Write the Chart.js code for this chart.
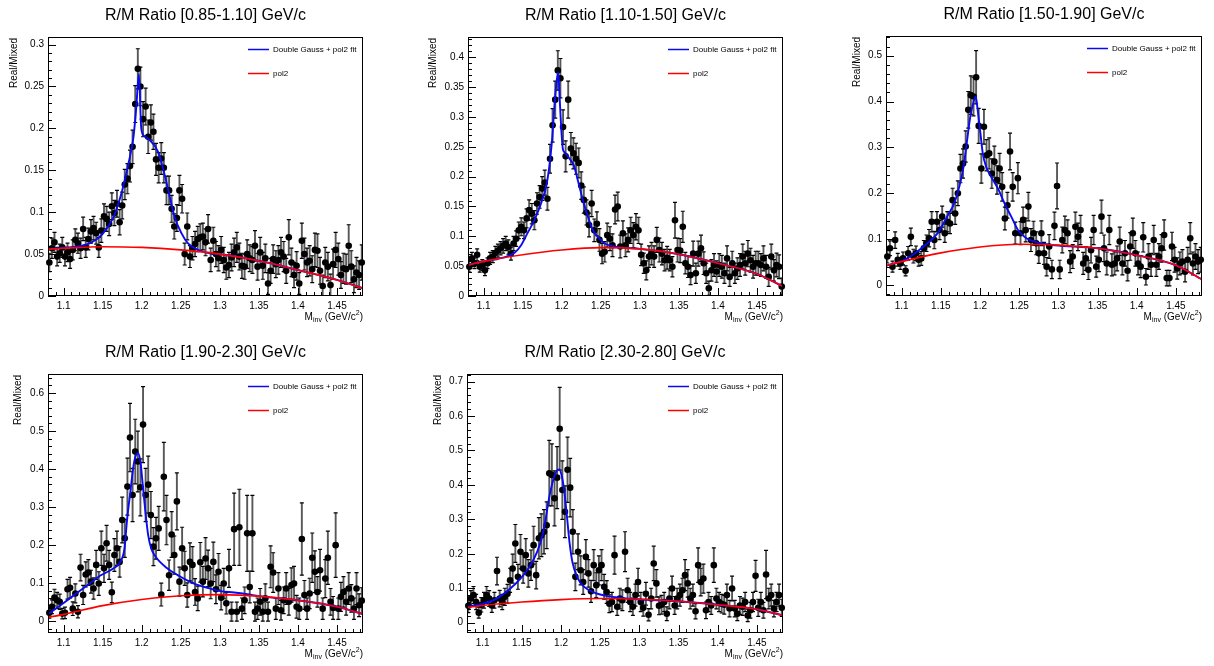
<!DOCTYPE html>
<html>
<head>
<meta charset="utf-8">
<title>R/M Ratio vs invariant mass</title>
<script src="https://cdn.jsdelivr.net/npm/chart.js@4.4.1/dist/chart.umd.min.js"></script>
<style>
  html, body { margin: 0; padding: 0; background: #fff; }
  #page { position: relative; width: 1214px; height: 666px; overflow: hidden; background: #fff; }
  #page canvas { position: absolute; }
</style>
</head>
<body>
<div id="page"></div>
<script>
// ---------------------------------------------------------------------------
// Histogram binning: 121 bins of width 1/300 GeV/c^2 starting at 1.08
// ---------------------------------------------------------------------------
const massBins = [
  1.0817,1.0850,1.0883, 1.0917,1.0950,1.0983, 1.1017,1.1050,1.1083, 1.1117,1.1150,1.1183,
  1.1217,1.1250,1.1283, 1.1317,1.1350,1.1383, 1.1417,1.1450,1.1483, 1.1517,1.1550,1.1583,
  1.1617,1.1650,1.1683, 1.1717,1.1750,1.1783, 1.1817,1.1850,1.1883, 1.1917,1.1950,1.1983,
  1.2017,1.2050,1.2083, 1.2117,1.2150,1.2183, 1.2217,1.2250,1.2283, 1.2317,1.2350,1.2383,
  1.2417,1.2450,1.2483, 1.2517,1.2550,1.2583, 1.2617,1.2650,1.2683, 1.2717,1.2750,1.2783,
  1.2817,1.2850,1.2883, 1.2917,1.2950,1.2983, 1.3017,1.3050,1.3083, 1.3117,1.3150,1.3183,
  1.3217,1.3250,1.3283, 1.3317,1.3350,1.3383, 1.3417,1.3450,1.3483, 1.3517,1.3550,1.3583,
  1.3617,1.3650,1.3683, 1.3717,1.3750,1.3783, 1.3817,1.3850,1.3883, 1.3917,1.3950,1.3983,
  1.4017,1.4050,1.4083, 1.4117,1.4150,1.4183, 1.4217,1.4250,1.4283, 1.4317,1.4350,1.4383,
  1.4417,1.4450,1.4483, 1.4517,1.4550,1.4583, 1.4617,1.4650,1.4683, 1.4717,1.4750,1.4783,
  1.4817
];
const massMin = 1.08;
const massMax = 1.4833;
const massTicks = [1.1, 1.15, 1.2, 1.25, 1.3, 1.35, 1.4, 1.45];

const panelTitles = [
  'R/M Ratio [0.85-1.10] GeV/c',
  'R/M Ratio [1.10-1.50] GeV/c',
  'R/M Ratio [1.50-1.90] GeV/c',
  'R/M Ratio [1.90-2.30] GeV/c',
  'R/M Ratio [2.30-2.80] GeV/c'
];

// ---------------------------------------------------------------------------
// Real/Mixed ratio and its statistical error, one value per mass bin
// ---------------------------------------------------------------------------
const ratioPt085 = [
  0.040,0.057,0.064,0.047,0.051,0.058,0.047,0.052,0.044,0.055,
  0.067,0.063,0.057,0.080,0.058,0.068,0.077,0.081,0.075,0.058,
  0.078,0.095,0.092,0.086,0.107,0.099,0.110,0.088,0.108,0.133,
  0.140,0.155,0.178,0.229,0.271,0.250,0.211,0.226,0.190,0.207,
  0.196,0.163,0.153,0.164,0.153,0.126,0.126,0.104,0.083,0.093,
  0.126,0.116,0.050,0.083,0.047,0.057,0.062,0.068,0.070,0.071,
  0.064,0.080,0.043,0.066,0.050,0.045,0.055,0.043,0.034,0.037,
  0.046,0.052,0.058,0.047,0.036,0.035,0.050,0.045,0.043,0.060,
  0.035,0.052,0.036,0.045,0.015,0.030,0.044,0.038,0.043,0.052,
  0.047,0.030,0.070,0.040,0.025,0.036,0.015,0.066,0.050,0.040,
  0.042,0.032,0.055,0.054,0.030,0.012,0.040,0.035,0.013,0.038,
  0.055,0.044,0.025,0.033,0.032,0.060,0.035,0.020,0.028,0.025,0.040
];
const errorPt085 = [
  0.011,0.012,0.012,0.011,0.011,0.012,0.011,0.011,0.011,0.012,
  0.013,0.012,0.012,0.014,0.012,0.013,0.014,0.014,0.013,0.012,
  0.014,0.015,0.015,0.014,0.016,0.015,0.016,0.015,0.016,0.018,
  0.018,0.019,0.020,0.022,0.024,0.023,0.021,0.022,0.020,0.021,
  0.021,0.019,0.018,0.019,0.018,0.017,0.017,0.016,0.015,0.016,
  0.018,0.017,0.013,0.016,0.013,0.014,0.015,0.015,0.016,0.016,
  0.016,0.017,0.014,0.016,0.015,0.015,0.016,0.015,0.014,0.015,
  0.016,0.017,0.018,0.016,0.015,0.015,0.017,0.016,0.016,0.018,
  0.016,0.018,0.016,0.017,0.013,0.015,0.017,0.016,0.017,0.018,
  0.018,0.015,0.021,0.017,0.015,0.017,0.013,0.021,0.019,0.017,
  0.018,0.016,0.020,0.020,0.016,0.013,0.018,0.017,0.013,0.018,
  0.021,0.019,0.016,0.018,0.018,0.025,0.019,0.016,0.018,0.017,0.021
];

const ratioPt110 = [
  0.049,0.063,0.055,0.069,0.049,0.052,0.043,0.055,0.063,0.066,
  0.072,0.076,0.080,0.084,0.088,0.082,0.071,0.088,0.096,0.110,
  0.116,0.110,0.130,0.144,0.138,0.127,0.155,0.166,0.180,0.190,
  0.163,0.230,0.286,0.329,
  0.378,0.365,0.283,0.234,0.329,0.247,0.239,0.230,0.223,0.185,
  0.161,0.140,0.119,0.155,0.110,0.121,0.094,0.071,0.074,0.102,
  0.096,0.085,0.145,0.150,0.083,0.105,0.085,0.094,0.110,0.102,
  0.116,0.110,0.069,0.055,0.043,0.066,0.071,0.066,0.094,0.077,
  0.071,0.060,0.064,0.060,0.049,0.127,0.077,0.076,0.116,0.055,
  0.049,0.035,0.071,0.038,0.071,0.080,0.055,0.038,0.013,0.043,
  0.052,0.041,0.052,0.049,0.038,0.063,0.032,0.055,0.038,0.046,
  0.052,0.066,0.055,0.071,0.060,0.049,0.055,0.055,0.052,0.063,
  0.049,0.032,0.066,0.043,0.052,0.049,0.016
];
const errorPt110 = [
  0.009,0.010,0.009,0.010,0.009,0.009,0.009,0.009,0.010,0.010,
  0.011,0.011,0.011,0.012,0.012,0.012,0.011,0.012,0.013,0.014,
  0.015,0.014,0.016,0.017,0.017,0.016,0.018,0.019,0.020,0.021,
  0.019,0.024,0.028,0.031,
  0.033,0.033,0.029,0.026,0.031,0.027,0.026,0.026,0.025,0.023,
  0.022,0.021,0.020,0.022,0.019,0.020,0.019,0.017,0.017,0.020,
  0.020,0.019,0.024,0.024,0.019,0.021,0.019,0.020,0.022,0.021,
  0.022,0.022,0.018,0.017,0.016,0.018,0.019,0.018,0.021,0.020,
  0.019,0.018,0.019,0.018,0.017,0.030,0.020,0.020,0.026,0.018,
  0.018,0.016,0.021,0.017,0.021,0.022,0.019,0.017,0.012,0.018,
  0.019,0.018,0.019,0.019,0.017,0.021,0.016,0.020,0.017,0.018,
  0.019,0.021,0.020,0.022,0.020,0.019,0.020,0.020,0.019,0.021,
  0.019,0.016,0.021,0.018,0.020,0.020,0.014
];

const ratioPt150 = [
  0.062,0.080,0.040,0.098,0.055,0.047,0.058,0.031,0.069,0.105,
  0.063,0.069,0.055,0.058,0.080,0.091,0.102,0.138,0.098,0.138,
  0.120,0.149,0.113,0.138,0.134,0.185,0.156,0.200,0.254,0.265,
  0.302,0.382,0.414,0.411,0.453,0.347,0.254,0.345,0.283,0.287,
  0.243,0.269,0.229,0.254,0.214,0.145,0.174,0.291,0.214,0.113,
  0.233,0.113,0.142,0.120,0.171,0.098,0.113,0.091,0.069,0.113,
  0.069,0.040,0.084,0.034,0.129,0.216,0.034,0.098,0.120,0.113,
  0.051,0.062,0.127,0.105,0.120,0.047,0.058,0.033,0.076,0.120,
  0.040,0.055,0.149,0.080,0.047,0.120,0.044,0.047,0.058,0.095,
  0.047,0.069,0.031,0.084,0.113,0.069,0.047,0.040,0.104,0.018,
  0.062,0.044,0.098,0.044,0.062,0.080,0.109,0.015,0.015,0.084,
  0.055,0.036,0.047,0.051,0.029,0.055,0.102,0.047,0.062,0.051,0.055
];
const errorPt150 = [
  0.014,0.016,0.012,0.018,0.014,0.013,0.014,0.011,0.015,0.019,
  0.015,0.016,0.014,0.015,0.017,0.018,0.019,0.022,0.019,0.022,
  0.021,0.023,0.020,0.022,0.022,0.026,0.024,0.027,0.031,0.032,
  0.034,0.040,0.042,0.042,0.058,0.038,0.032,0.038,0.034,0.034,
  0.032,0.034,0.031,0.033,0.031,0.025,0.028,0.040,0.031,0.024,
  0.034,0.025,0.028,0.026,0.031,0.025,0.026,0.025,0.022,0.027,
  0.024,0.020,0.026,0.020,0.030,0.050,0.020,0.028,0.030,0.029,
  0.024,0.026,0.032,0.030,0.032,0.024,0.026,0.021,0.028,0.032,
  0.023,0.026,0.036,0.029,0.025,0.032,0.024,0.025,0.027,0.031,
  0.025,0.028,0.022,0.030,0.033,0.028,0.025,0.024,0.032,0.018,
  0.028,0.025,0.032,0.025,0.028,0.030,0.033,0.017,0.017,0.031,
  0.027,0.023,0.025,0.026,0.022,0.027,0.034,0.025,0.028,0.026,0.027
];

const ratioPt190 = [
  0.022,0.038,0.062,0.055,0.051,0.020,0.022,0.084,0.088,0.033,
  0.073,0.025,0.141,0.069,0.123,0.128,0.104,0.086,0.148,0.099,
  0.192,0.139,0.205,0.148,0.076,0.174,0.192,0.156,0.266,0.218,
  0.354,0.483,0.332,0.446,0.420,0.352,0.517,0.332,0.359,0.279,
  0.196,0.218,0.244,0.070,0.380,0.266,0.121,0.228,0.174,0.315,
  0.104,0.192,0.139,0.069,0.156,0.148,0.077,0.060,0.155,0.104,
  0.165,0.139,0.099,0.156,0.084,0.130,0.062,0.099,0.047,0.139,
  0.025,0.242,0.025,0.247,0.033,0.055,0.231,0.090,0.231,0.025,
  0.033,0.051,0.025,0.060,0.025,0.143,0.128,0.033,0.086,0.029,
  0.055,0.086,0.051,0.095,0.099,0.038,0.033,0.216,0.069,0.033,
  0.073,0.167,0.130,0.077,0.134,0.033,0.112,0.167,0.051,0.035,
  0.200,0.033,0.064,0.077,0.051,0.086,0.060,0.033,0.086,0.042,0.054
];
const errorPt190 = [
  0.014,0.018,0.022,0.021,0.020,0.014,0.015,0.026,0.027,0.018,
  0.025,0.016,0.035,0.025,0.033,0.034,0.030,0.028,0.038,0.031,
  0.045,0.037,0.047,0.038,0.027,0.043,0.045,0.040,0.060,0.050,
  0.075,0.090,0.070,0.085,0.080,0.075,0.100,0.070,0.075,0.062,
  0.050,0.055,0.058,0.030,0.090,0.065,0.040,0.060,0.050,0.075,
  0.038,0.055,0.045,0.032,0.050,0.048,0.035,0.032,0.052,0.040,
  0.055,0.048,0.040,0.052,0.038,0.048,0.032,0.040,0.028,0.050,
  0.025,0.095,0.025,0.100,0.028,0.035,0.100,0.042,0.100,0.025,
  0.028,0.035,0.025,0.038,0.025,0.055,0.052,0.028,0.042,0.026,
  0.035,0.042,0.035,0.045,0.045,0.030,0.028,0.095,0.038,0.028,
  0.040,0.065,0.055,0.040,0.055,0.028,0.050,0.070,0.035,0.030,
  0.085,0.028,0.038,0.040,0.035,0.042,0.036,0.028,0.042,0.030,0.034
];

const ratioPt230 = [
  0.049,0.070,0.080,0.060,0.029,0.052,0.065,0.080,0.070,0.050,
  0.065,0.150,0.070,0.060,0.075,0.084,0.123,0.157,0.230,0.133,
  0.206,0.157,0.196,0.143,0.167,0.225,0.138,0.245,0.254,0.264,
  0.283,0.434,0.429,0.361,0.421,0.563,0.385,0.322,0.444,0.392,
  0.264,0.133,0.206,0.152,0.118,0.191,0.143,0.091,0.167,0.109,
  0.152,0.167,0.104,0.089,0.055,0.060,0.196,0.046,0.070,0.065,
  0.206,0.094,0.060,0.046,0.080,0.118,0.060,0.043,0.084,0.023,
  0.070,0.172,0.114,0.049,0.052,0.060,0.026,0.070,0.099,0.050,
  0.070,0.080,0.094,0.138,0.114,0.070,0.080,0.033,0.167,0.118,
  0.128,0.036,0.060,0.050,0.167,0.070,0.060,0.055,0.052,0.080,
  0.041,0.099,0.041,0.026,0.050,0.046,0.060,0.021,0.036,0.060,
  0.136,0.043,0.060,0.036,0.140,0.070,0.080,0.041,0.060,0.080,0.043
];
const errorPt230 = [
  0.020,0.023,0.025,0.022,0.016,0.021,0.023,0.025,0.023,0.020,
  0.023,0.040,0.024,0.022,0.025,0.027,0.035,0.042,0.055,0.036,
  0.050,0.042,0.048,0.040,0.044,0.055,0.040,0.060,0.062,0.064,
  0.068,0.095,0.090,0.080,0.090,0.120,0.085,0.075,0.095,0.085,
  0.064,0.040,0.052,0.042,0.036,0.050,0.040,0.032,0.045,0.036,
  0.042,0.045,0.036,0.033,0.026,0.028,0.055,0.025,0.030,0.030,
  0.058,0.035,0.028,0.025,0.032,0.040,0.028,0.024,0.033,0.018,
  0.030,0.050,0.040,0.026,0.027,0.028,0.020,0.030,0.036,0.026,
  0.030,0.032,0.035,0.045,0.040,0.030,0.032,0.022,0.050,0.040,
  0.042,0.024,0.028,0.026,0.050,0.030,0.028,0.027,0.027,0.032,
  0.024,0.036,0.024,0.020,0.026,0.025,0.028,0.018,0.023,0.028,
  0.045,0.025,0.028,0.023,0.070,0.030,0.032,0.024,0.028,0.032,0.025
];

// ---------------------------------------------------------------------------
// Fit results, tabulated along the mass axis
// ---------------------------------------------------------------------------
const pol2Mass = [1.08, 1.10, 1.15, 1.20, 1.25, 1.30, 1.35, 1.40, 1.45, 1.4833];
const pol2Pt085 = [0.0558, 0.0570, 0.0588, 0.0580, 0.0550, 0.0500, 0.0420, 0.0310, 0.0192, 0.0092];
const pol2Pt110 = [0.052, 0.058, 0.069, 0.077, 0.081, 0.079, 0.070, 0.055, 0.037, 0.016];
const pol2Pt150 = [0.042, 0.051, 0.070, 0.083, 0.089, 0.087, 0.080, 0.065, 0.043, 0.012];
const pol2Pt190 = [0.010, 0.018, 0.041, 0.057, 0.067, 0.070, 0.066, 0.055, 0.038, 0.019];
const pol2Pt230 = [0.044, 0.050, 0.060, 0.067, 0.070, 0.068, 0.062, 0.052, 0.039, 0.021];

const fitMassPt085 = [1.08, 1.10, 1.12, 1.135, 1.15, 1.164, 1.175, 1.183, 1.1895, 1.193, 1.1964, 1.1994, 1.203, 1.209,
  1.221, 1.229, 1.236, 1.242, 1.251, 1.259, 1.272, 1.289, 1.30, 1.35, 1.40, 1.45, 1.4833];
const fitPt085 = [0.0560, 0.0575, 0.0595, 0.0635, 0.074, 0.0945, 0.126, 0.158, 0.190, 0.225, 0.265, 0.200, 0.191, 0.187,
  0.172, 0.146, 0.118, 0.0946, 0.0747, 0.063, 0.055, 0.0505, 0.0500, 0.042, 0.031, 0.0192, 0.0092];

const fitMassPt110 = [1.08, 1.10, 1.13, 1.14, 1.148, 1.156, 1.165, 1.1735, 1.18, 1.184, 1.1876, 1.1906, 1.1936, 1.1955,
  1.1975, 1.1995, 1.2015, 1.2045, 1.21, 1.2155, 1.2206, 1.227, 1.2335, 1.24, 1.2463, 1.255, 1.2656, 1.2763, 1.30, 1.35,
  1.40, 1.45, 1.4833];
const fitPt110 = [0.052, 0.058, 0.0665, 0.073, 0.085, 0.105, 0.127, 0.155, 0.183, 0.216, 0.261, 0.317, 0.361, 0.375,
  0.328, 0.278, 0.246, 0.240, 0.230, 0.219, 0.194, 0.161, 0.133, 0.110, 0.099, 0.088, 0.0836, 0.0814, 0.079, 0.070,
  0.055, 0.037, 0.016];

const fitMassPt150 = [1.08, 1.10, 1.107, 1.12, 1.133, 1.146, 1.158, 1.167, 1.1735, 1.179, 1.183, 1.1876, 1.1906, 1.1945,
  1.197, 1.2005, 1.2035, 1.2078, 1.2142, 1.2227, 1.2313, 1.2399, 1.2484, 1.2592, 1.2699, 1.2827, 1.2956, 1.35, 1.40,
  1.45, 1.4833];
const fitPt150 = [0.042, 0.052, 0.058, 0.073, 0.091, 0.113, 0.149, 0.178, 0.214, 0.258, 0.309, 0.367, 0.392, 0.411,
  0.382, 0.331, 0.287, 0.258, 0.236, 0.211, 0.178, 0.149, 0.120, 0.102, 0.0945, 0.0894, 0.0865, 0.080, 0.065,
  0.043, 0.012];

const fitMassPt190 = [1.08, 1.10, 1.117, 1.134, 1.147, 1.164, 1.1726, 1.178, 1.181, 1.1855, 1.189, 1.1919, 1.1953, 1.1983,
  1.2013, 1.2047, 1.2082, 1.212, 1.2176, 1.2326, 1.2497, 1.2669, 1.284, 1.301, 1.3183, 1.3354, 1.35, 1.40, 1.45, 1.4833];
const fitPt190 = [0.018, 0.048, 0.074, 0.100, 0.120, 0.139, 0.156, 0.192, 0.262, 0.341, 0.402, 0.433, 0.442, 0.420,
  0.359, 0.288, 0.227, 0.192, 0.170, 0.139, 0.117, 0.099, 0.088, 0.079, 0.0756, 0.071, 0.066, 0.055, 0.038, 0.019];

const fitMassPt230 = [1.08, 1.101, 1.118, 1.1353, 1.1482, 1.161, 1.1696, 1.176, 1.1803, 1.1846, 1.1889, 1.1932, 1.1975,
  1.2005, 1.204, 1.2075, 1.211, 1.2146, 1.221, 1.2296, 1.2424, 1.2596, 1.2767, 1.298, 1.35, 1.40, 1.45, 1.4833];
const fitPt230 = [0.046, 0.055, 0.070, 0.099, 0.128, 0.167, 0.206, 0.250, 0.300, 0.360, 0.405, 0.435, 0.445,
  0.430, 0.385, 0.310, 0.230, 0.175, 0.130, 0.104, 0.087, 0.077, 0.072, 0.068, 0.062, 0.052, 0.039, 0.021];

// ---------------------------------------------------------------------------
// Page layout: one canvas per pad, with the frame margins of each pad
// ---------------------------------------------------------------------------
const FONT = '"Liberation Sans", Arial, Helvetica, sans-serif';
const BLUE = '#0a0af0';
const RED = '#ff0000';
Chart.defaults.font.family = FONT;

const panels = [
  { title: panelTitles[0], ratio: ratioPt085, err: errorPt085, fitX: fitMassPt085, fitY: fitPt085, pol2: pol2Pt085,
    yMin: 0, yMax: 0.309, yStep: 0.05,
    box: { x: 0, y: 0, w: 404, h: 333 }, margin: { left: 48, right: 41, top: 37, bottom: 37 }, yTitleX: 14 },
  { title: panelTitles[1], ratio: ratioPt110, err: errorPt110, fitX: fitMassPt110, fitY: fitPt110, pol2: pol2Pt110,
    yMin: 0, yMax: 0.434, yStep: 0.05,
    box: { x: 405, y: 0, w: 404, h: 333 }, margin: { left: 63, right: 26, top: 37, bottom: 37 }, yTitleX: 28 },
  { title: panelTitles[2], ratio: ratioPt150, err: errorPt150, fitX: fitMassPt150, fitY: fitPt150, pol2: pol2Pt150,
    yMin: -0.024, yMax: 0.543, yStep: 0.1,
    box: { x: 810, y: 0, w: 404, h: 333 }, margin: { left: 76, right: 12, top: 36, bottom: 37 }, yTitleX: 47 },
  { title: panelTitles[3], ratio: ratioPt190, err: errorPt190, fitX: fitMassPt190, fitY: fitPt190, pol2: pol2Pt190,
    yMin: -0.031, yMax: 0.650, yStep: 0.1,
    box: { x: 0, y: 333, w: 404, h: 333 }, margin: { left: 48, right: 41, top: 41, bottom: 33 }, yTitleX: 18 },
  { title: panelTitles[4], ratio: ratioPt230, err: errorPt230, fitX: fitMassPt230, fitY: fitPt230, pol2: pol2Pt230,
    yMin: -0.030, yMax: 0.722, yStep: 0.1,
    box: { x: 405, y: 333, w: 404, h: 333 }, margin: { left: 62, right: 26, top: 41, bottom: 33 }, yTitleX: 33 }
];

function fmtTick(v) {
  const s = String(+Number(v).toFixed(3));
  return s === '-0' ? '0' : s;
}

// Draws the "M_inv (GeV/c^2)" axis title, right-aligned at xRight.
function drawMassTitle(ctx, xRight, yMid) {
  const parts = [
    { t: 'M', size: 10, dy: 0 },
    { t: 'inv', size: 7, dy: 3 },
    { t: ' (GeV/c', size: 10, dy: 0 },
    { t: '2', size: 7, dy: -4 },
    { t: ')', size: 10, dy: 0 }
  ];
  let total = 0;
  parts.forEach(p => { ctx.font = p.size + 'px ' + FONT; p.w = ctx.measureText(p.t).width; total += p.w; });
  let x = xRight - total;
  ctx.textAlign = 'left';
  ctx.textBaseline = 'middle';
  parts.forEach(p => { ctx.font = p.size + 'px ' + FONT; ctx.fillText(p.t, x, yMid + p.dy); x += p.w; });
}

// ROOT-like pad decoration: error bars, frame, inward ticks, titles, legend
const padStyle = {
  id: 'padStyle',
  beforeDatasetsDraw(chart) {
    const ds = chart.data.datasets;
    const idx = ds.findIndex(d => d.errors);
    if (idx < 0) return;
    const meta = chart.getDatasetMeta(idx);
    const ys = chart.scales.y;
    const a = chart.chartArea;
    const ctx = chart.ctx;
    ctx.save();
    ctx.beginPath();
    ctx.rect(a.left, a.top, a.right - a.left, a.bottom - a.top);
    ctx.clip();
    meta.data.forEach((el, i) => {
      const v = ds[idx].data[i].y;
      const e = ds[idx].errors[i];
      const yTop = ys.getPixelForValue(v + e);
      const yBot = ys.getPixelForValue(v - e);
      const x = el.x;
      ctx.strokeStyle = 'rgba(0,0,0,0.66)';
      ctx.lineWidth = 1.9;
      ctx.beginPath();
      ctx.moveTo(x, yTop);
      ctx.lineTo(x, yBot);
      ctx.stroke();
      ctx.strokeStyle = '#000';
      ctx.lineWidth = 1.2;
      ctx.beginPath();
      ctx.moveTo(x - 2, yTop); ctx.lineTo(x + 2, yTop);
      ctx.moveTo(x - 2, yBot); ctx.lineTo(x + 2, yBot);
      ctx.stroke();
    });
    ctx.restore();
  },
  afterDraw(chart, args, opts) {
    const ctx = chart.ctx;
    const a = chart.chartArea;
    const xs = chart.scales.x;
    const ys = chart.scales.y;
    ctx.save();

    // frame
    ctx.strokeStyle = '#000';
    ctx.lineWidth = 1;
    ctx.strokeRect(Math.round(a.left) + 0.5, Math.round(a.top) + 0.5,
                   Math.round(a.right - a.left) - 1, Math.round(a.bottom - a.top) - 1);

    // inward tick marks (major + 5 subdivisions)
    const drawTicks = (scale, major, horizontal) => {
      const minor = major / 5;
      const k0 = Math.ceil(scale.min / minor - 1e-6);
      for (let k = k0; k * minor <= scale.max + 1e-9; k++) {
        const v = k * minor;
        const isMajor = Math.abs(v / major - Math.round(v / major)) < 1e-6;
        const len = isMajor ? 8 : 4;
        const p = Math.round(scale.getPixelForValue(v)) + 0.5;
        ctx.beginPath();
        if (horizontal) {
          ctx.moveTo(p, a.bottom);
          ctx.lineTo(p, a.bottom - len);
        } else {
          ctx.moveTo(a.left, p);
          ctx.lineTo(a.left + len, p);
        }
        ctx.stroke();
      }
    };
    drawTicks(xs, 0.05, true);
    drawTicks(ys, opts.yStep, false);

    ctx.fillStyle = '#000';

    // pad title
    ctx.font = '16px ' + FONT;
    ctx.textAlign = 'center';
    ctx.textBaseline = 'middle';
    ctx.fillText(opts.title, (a.left + a.right) / 2, a.top - 21.5);

    // y axis title, rotated and aligned to the top of the frame
    ctx.save();
    ctx.translate(opts.yTitleX, a.top + 1);
    ctx.rotate(-Math.PI / 2);
    ctx.font = '10px ' + FONT;
    ctx.textAlign = 'right';
    ctx.textBaseline = 'middle';
    ctx.fillText('Real/Mixed', 0, 0);
    ctx.restore();

    // x axis title
    drawMassTitle(ctx, a.right, a.bottom + 21.5);

    // legend
    const lx = a.right - 115;
    const entries = [
      { color: BLUE, text: 'Double Gauss + pol2 fit', y: a.top + 12.5 },
      { color: RED, text: 'pol2', y: a.top + 36.5 }
    ];
    entries.forEach(en => {
      ctx.strokeStyle = en.color;
      ctx.lineWidth = 1.5;
      ctx.beginPath();
      ctx.moveTo(lx, en.y);
      ctx.lineTo(lx + 21, en.y);
      ctx.stroke();
      ctx.fillStyle = '#000';
      ctx.font = '8px ' + FONT;
      ctx.textAlign = 'left';
      ctx.textBaseline = 'middle';
      ctx.fillText(en.text, lx + 25, en.y);
    });
    ctx.restore();
  }
};

const page = document.getElementById('page');

panels.forEach(p => {
  const canvas = document.createElement('canvas');
  canvas.width = p.box.w;
  canvas.height = p.box.h;
  canvas.style.left = p.box.x + 'px';
  canvas.style.top = p.box.y + 'px';
  canvas.style.width = p.box.w + 'px';
  canvas.style.height = p.box.h + 'px';
  page.appendChild(canvas);

  new Chart(canvas, {
    type: 'scatter',
    data: {
      datasets: [
        {
          label: 'pol2',
          data: pol2Mass.map((x, i) => ({ x, y: p.pol2[i] })),
          showLine: true, borderColor: RED, borderWidth: 1.6, pointRadius: 0, pointHoverRadius: 0,
          cubicInterpolationMode: 'monotone', tension: 0.4, order: 0
        },
        {
          label: 'Double Gauss + pol2 fit',
          data: p.fitX.map((x, i) => ({ x, y: p.fitY[i] })),
          showLine: true, borderColor: BLUE, borderWidth: 1.9, pointRadius: 0, pointHoverRadius: 0,
          cubicInterpolationMode: 'monotone', tension: 0.4, order: 1
        },
        {
          label: 'Real/Mixed',
          data: massBins.map((x, i) => ({ x, y: p.ratio[i] })),
          errors: p.err,
          pointRadius: 3.3, pointHoverRadius: 3.3, pointBackgroundColor: '#000', pointBorderWidth: 0,
          backgroundColor: '#000', borderColor: '#000', clip: false, order: 2
        }
      ]
    },
    options: {
      responsive: false,
      animation: false,
      devicePixelRatio: 1,
      events: [],
      layout: { padding: { left: 0, right: p.margin.right, top: p.margin.top, bottom: 0 } },
      plugins: {
        legend: { display: false },
        tooltip: { enabled: false },
        title: { display: false },
        padStyle: { title: p.title, yStep: p.yStep, yTitleX: p.yTitleX }
      },
      scales: {
        x: {
          type: 'linear', min: massMin, max: massMax,
          grid: { display: false, drawTicks: false },
          border: { display: false },
          afterFit: s => { s.height = p.margin.bottom; },
          afterBuildTicks: s => { s.ticks = massTicks.map(v => ({ value: v })); },
          ticks: { autoSkip: false, maxRotation: 0, padding: 4, color: '#000', font: { size: 10 }, callback: fmtTick }
        },
        y: {
          type: 'linear', min: p.yMin, max: p.yMax,
          grid: { display: false, drawTicks: false },
          border: { display: false },
          afterFit: s => { s.width = p.margin.left; },
          ticks: { stepSize: p.yStep, includeBounds: false, autoSkip: false, padding: 4, color: '#000',
                   font: { size: 10 }, callback: fmtTick }
        }
      }
    },
    plugins: [padStyle]
  });
});
</script>
</body>
</html>
